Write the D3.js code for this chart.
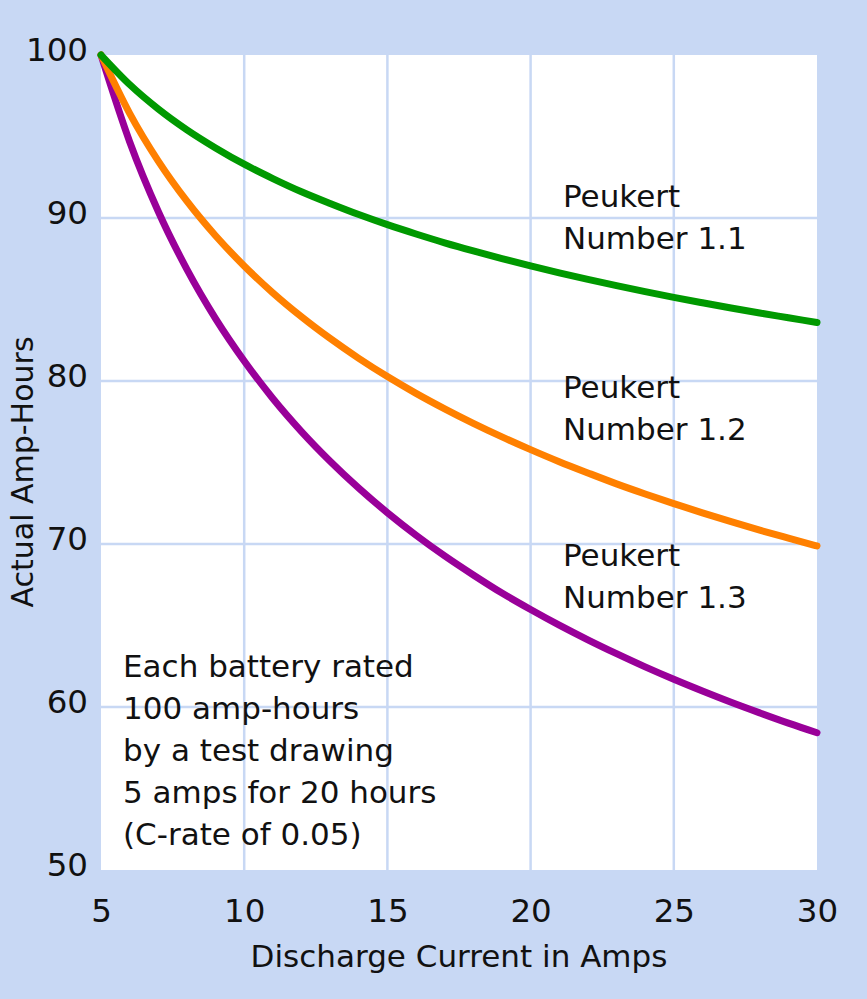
<!DOCTYPE html>
<html><head><meta charset="utf-8">
<script src="https://cdn.jsdelivr.net/npm/d3@7"></script>
<style>html,body{margin:0;padding:0;background:#c8d8f4;}</style>
</head><body>
<svg id="c" width="867" height="999"></svg>
<script>
const amps = [5,6,7,8,9,10,11,12,13,14,15,16,17,18,19,20,21,22,23,24,25,26,27,28,29,30];
const peukert11 = [100,98.19,96.69,95.41,94.30,93.30,92.42,91.61,90.89,90.21,89.59,89.02,88.48,87.98,87.51,87.06,86.63,86.23,85.85,85.48,85.13,84.80,84.48,84.17,83.88,83.59];
const peukert12 = [100,96.42,93.49,91.03,88.91,87.06,85.41,83.94,82.61,81.39,80.27,79.24,78.29,77.40,76.57,75.79,75.05,74.36,73.69,73.07,72.48,71.91,71.37,70.85,70.36,69.88];
const peukert13 = [100,94.68,90.40,86.85,83.83,81.23,78.93,76.90,75.08,73.43,71.92,70.54,69.27,68.10,66.99,65.98,65.02,64.12,63.27,62.46,61.70,60.98,60.29,59.64,59.01,58.42];
const xTicks = [5,10,15,20,25,30];
const yTicks = [50,60,70,80,90,100];
const seriesNames = ["Peukert Number 1.1","Peukert Number 1.2","Peukert Number 1.3"];
const seriesColors = ["#009900","#ff8000","#990099"];
const note = ["Each battery rated","100 amp-hours","by a test drawing","5 amps for 20 hours","(C-rate of 0.05)"];

const W=867,H=999;
const L=101,R=817,T=55,B=870;
const font = "'DejaVu Sans',sans-serif";
const FS = 31;
const svg = d3.select("#c");
svg.append("rect").attr("width",W).attr("height",H).attr("fill","#c8d8f4");
const x = d3.scaleLinear().domain([5,30]).range([L,R]);
const y = d3.scaleLinear().domain([50,100]).range([B,T]);
svg.append("rect").attr("x",L).attr("y",T).attr("width",R-L).attr("height",B-T).attr("fill","#ffffff");
const grid = svg.append("g");
grid.selectAll("line.v").data(xTicks.filter(d=>d>5&&d<30)).join("line")
  .attr("x1",d=>x(d)).attr("x2",d=>x(d)).attr("y1",T).attr("y2",B)
  .attr("stroke","#c8d8f4").attr("stroke-width",2.5);
grid.selectAll("line.h").data(yTicks.filter(d=>d>50&&d<100)).join("line")
  .attr("x1",L).attr("x2",R).attr("y1",d=>y(d)).attr("y2",d=>y(d))
  .attr("stroke","#c8d8f4").attr("stroke-width",2.5);

const xAxis = svg.append("g").attr("transform",`translate(0,${B})`)
  .call(d3.axisBottom(x).tickValues(xTicks).tickSize(0).tickPadding(0).tickFormat(d3.format("d")));
xAxis.select(".domain").remove();
xAxis.selectAll("text").attr("y",52).attr("dy",0).attr("font-size",32.5).attr("font-family",font).attr("fill","#111");

const yAxis = svg.append("g").attr("transform",`translate(${L},0)`)
  .call(d3.axisLeft(y).tickValues(yTicks).tickSize(0).tickPadding(0).tickFormat(d3.format("d")));
yAxis.select(".domain").remove();
yAxis.selectAll("text").attr("x",-13).attr("dy","0.36em").attr("y",-6).attr("font-size",32.5).attr("font-family",font).attr("fill","#111");

const line = d3.line().x((d,i)=>x(amps[i])).y(d=>y(d)).curve(d3.curveMonotoneX);
[peukert13,peukert12,peukert11].forEach((s,k)=>{
  const i = 2-k;
  svg.append("path").datum(s).attr("d",line).attr("fill","none")
    .attr("stroke",seriesColors[i]).attr("stroke-width",7)
    .attr("stroke-linecap","round").attr("stroke-linejoin","round");
});

const labelPos = [[563,207],[563,398],[563,566]];
seriesNames.forEach((n,i)=>{
  const parts=["Peukert", n.replace("Peukert ","")];
  const t = svg.append("text").attr("font-family",font).attr("font-size",FS).attr("fill","#111");
  parts.forEach((p,j)=>t.append("tspan").attr("x",labelPos[i][0]).attr("y",labelPos[i][1]+j*42).text(p));
});
const nt = svg.append("text").attr("font-family",font).attr("font-size",FS).attr("fill","#111");
note.forEach((p,j)=>nt.append("tspan").attr("x",123).attr("y",677+j*42).text(p));

svg.append("text").attr("x",(L+R)/2).attr("y",967).attr("text-anchor","middle")
  .attr("font-family",font).attr("font-size",FS).attr("fill","#111").text("Discharge Current in Amps");
svg.append("text").attr("transform",`translate(33,472) rotate(-90)`).attr("text-anchor","middle")
  .attr("font-family",font).attr("font-size",30).attr("fill","#111").text("Actual Amp-Hours");
</script>
</body></html>
